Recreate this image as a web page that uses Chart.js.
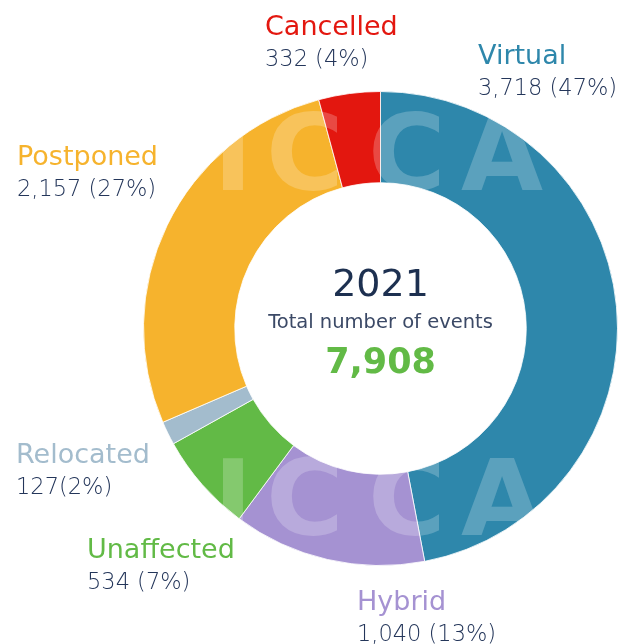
<!DOCTYPE html>
<html lang="en">
<head>
  <meta charset="UTF-8">
  <title>ICCA 2021 events</title>
  <script src="https://cdn.jsdelivr.net/npm/chart.js"></script>
  <style>
    body {
      margin: 0;
      background: white;
    }
    canvas {
      display: block;
    }
  </style>
</head>
<body>

<canvas id="donut" width="618" height="644"></canvas>

<script>
  // data, clockwise from the top
  const categories = ["Virtual", "Hybrid", "Unaffected", "Relocated", "Postponed", "Cancelled"];
  const eventCounts = [3718, 1040, 534, 127, 2157, 332];
  const valueLabels = ["3,718 (47%)", "1,040 (13%)", "534 (7%)", "127(2%)", "2,157 (27%)", "332 (4%)"];
  const sliceColors = ["#2e87ab", "#a592d2", "#62ba46", "#a3bccd", "#f6b32d", "#e3170f"];
  const year = "2021";
  const totalText = "7,908";

  // where each outside label goes (left x, baseline of name)
  const labelSpots = [
    [478, 64], [357, 610], [87, 558], [16, 463], [17, 165], [265, 35]
  ];

  const FONT = "'DejaVu Sans', sans-serif";

  const watermark = {
    id: "watermark",
    afterDatasetsDraw(chart) {
      const ctx = chart.ctx;
      ctx.save();
      ctx.fillStyle = "rgba(255,255,255,0.22)";
      ctx.font = "bold 106px " + FONT;
      ctx.textAlign = "center";
      ctx.textBaseline = "alphabetic";
      const letters = ["I", "C", "C", "A"];
      const xs = [233, 305, 407, 502];
      [190, 535].forEach(function (y) {
        letters.forEach(function (l, i) {
          ctx.fillText(l, xs[i], y);
        });
      });
      ctx.restore();
    }
  };

  const textLabels = {
    id: "textLabels",
    afterDraw(chart) {
      const ctx = chart.ctx;
      const meta = chart.getDatasetMeta(0);
      const cx = meta.data[0].x;
      const cy = meta.data[0].y;
      ctx.save();
      ctx.textBaseline = "alphabetic";

      // centre
      ctx.textAlign = "center";
      ctx.fillStyle = "#1d3050";
      ctx.font = "500 38px " + FONT;
      ctx.fillText(year, cx, cy - 33);
      ctx.fillStyle = "#3b4966";
      ctx.font = "19.5px " + FONT;
      ctx.fillText("Total number of events", cx, cy - 1);
      ctx.fillStyle = "#62ba46";
      ctx.font = "bold 35px " + FONT;
      ctx.fillText(totalText, cx, cy + 44);

      // outside labels
      ctx.textAlign = "left";
      categories.forEach(function (name, i) {
        const p = labelSpots[i];
        ctx.fillStyle = sliceColors[i];
        ctx.font = "27px " + FONT;
        ctx.fillText(name, p[0], p[1]);
        ctx.fillStyle = "#24365a";
        ctx.font = "300 22.5px " + FONT;
        ctx.fillText(valueLabels[i], p[0], p[1] + 31);
      });
      ctx.restore();
    }
  };

  new Chart(document.getElementById("donut"), {
    type: "doughnut",
    data: {
      labels: categories,
      datasets: [{
        data: eventCounts,
        backgroundColor: sliceColors,
        borderColor: "rgba(255,255,255,0.8)",
        borderWidth: 1
      }]
    },
    options: {
      responsive: false,
      animation: false,
      cutout: "61.5%",
      layout: { padding: { left: 143, right: 0, top: 90, bottom: 77 } },
      plugins: {
        legend: { display: false },
        tooltip: { enabled: false }
      }
    },
    plugins: [watermark, textLabels]
  });
</script>

</body>
</html>
